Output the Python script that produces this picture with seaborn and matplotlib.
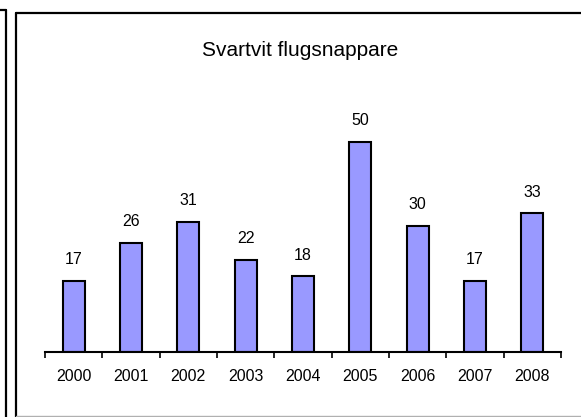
import matplotlib.pyplot as plt
import seaborn as sns
import pandas as pd
from matplotlib.lines import Line2D

years = ['2000', '2001', '2002', '2003', '2004', '2005', '2006', '2007', '2008']
counts = [17, 26, 31, 22, 18, 50, 30, 17, 33]
title = 'Svartvit flugsnappare'

df = pd.DataFrame({'year': years, 'count': counts})

sns.set_style('white')
plt.rcParams['font.family'] = ['Liberation Sans', 'DejaVu Sans']
plt.rcParams['text.color'] = 'black'
plt.rcParams['xtick.color'] = 'black'
plt.rcParams['xtick.labelcolor'] = 'black'

W, H = 581, 417
fig = plt.figure(figsize=(W / 100, H / 100), dpi=100)

def px(x, y):
    return x / W, 1 - y / H

# frame of the previous chart (cut off at the left) and this chart's frame
fig.add_artist(Line2D([px(0, 0)[0], px(6, 0)[0]], [px(0, 10)[1]] * 2, color='black', lw=1.6))
fig.add_artist(Line2D([px(6, 0)[0]] * 2, [px(0, 10)[1], 0], color='black', lw=1.6))
fig.add_artist(Line2D([px(16, 0)[0], 1], [px(0, 13)[1]] * 2, color='black', lw=1.6))
fig.add_artist(Line2D([px(16, 0)[0]] * 2, [px(0, 13)[1], 0], color='black', lw=1.6))
fig.add_artist(Line2D([px(16, 0)[0], 1], [px(0, 415.5)[1]] * 2, color='#b0b0b0', lw=1))

left, bottom = px(45, 352)
ax = fig.add_axes([left, bottom, 516 / W, 252 / H])
sns.barplot(data=df, x='year', y='count', ax=ax, color='#9999FF', width=0.38,
            edgecolor='black', linewidth=1.5, saturation=1)

ax.bar_label(ax.containers[0], padding=10, fontsize=11.5, color='black')
ax.set_ylim(0, 60)
ax.set_xlim(-0.5, 8.5)
ax.set_xlabel('')
ax.set_ylabel('')
ax.set_yticks([])
for s in ['top', 'right', 'left']:
    ax.spines[s].set_visible(False)
ax.spines['bottom'].set_linewidth(1.5)
ax.spines['bottom'].set_color('black')
ax.set_xticks([i - 0.5 for i in range(10)], minor=True)
ax.tick_params(axis='x', which='major', length=0, pad=12, labelsize=11.5, labelcolor='black')
ax.tick_params(axis='x', which='minor', length=4, width=1.2, direction='out', bottom=True, color='black')
ax.set_facecolor('none')

tx, ty = px(300, 50)
fig.text(tx, ty, title, ha='center', va='center', fontsize=15, color='black')

fig.savefig('out.png', dpi=100)
